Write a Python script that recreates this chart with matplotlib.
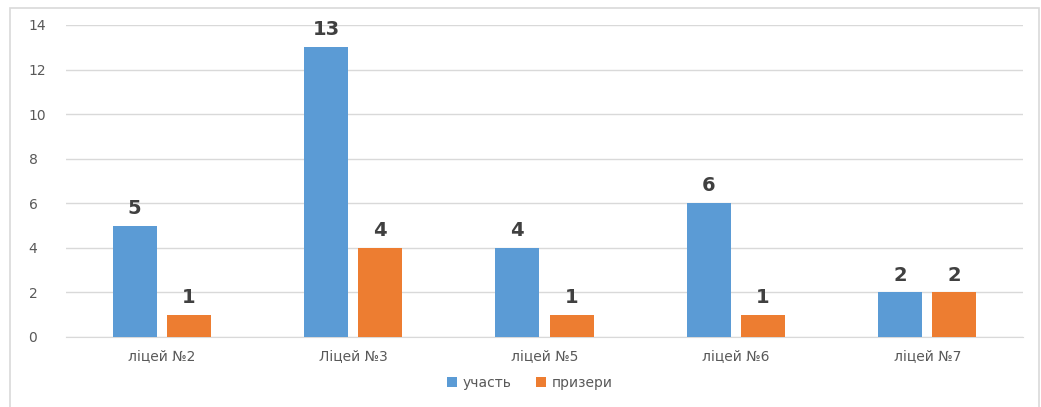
import matplotlib.pyplot as plt
import numpy as np
from matplotlib.patches import Rectangle

categories = ["ліцей №2", "Ліцей №3", "ліцей №5", "ліцей №6", "ліцей №7"]
uchast = [5, 13, 4, 6, 2]
pryzery = [1, 4, 1, 1, 2]

fig = plt.figure(figsize=(10.41, 4.07), dpi=100)
fig.patches.append(Rectangle((10/1041, -0.05), 1029/1041, 1 - 8/407 + 0.05,
                             transform=fig.transFigure, fill=False,
                             edgecolor="#D9D9D9", linewidth=1.2))
ax = fig.add_axes([66/1041, 1 - 337/407, 957/1041, 312/407])

x = np.arange(len(categories))
w = 0.23
b1 = ax.bar(x - 0.142, uchast, w, color="#5B9BD5", label="участь", zorder=3)
b2 = ax.bar(x + 0.142, pryzery, w, color="#ED7D31", label="призери", zorder=3)

for bars in (b1, b2):
    for r in bars:
        ax.text(r.get_x() + r.get_width()/2, r.get_height() + 0.35, str(int(r.get_height())),
                ha="center", va="bottom", fontsize=14, fontweight="bold", color="#404040")

ax.set_xlim(-0.5, 4.5)
ax.set_ylim(0, 14)
ax.set_yticks(range(0, 15, 2))
ax.set_xticks(x)
ax.set_xticklabels(categories)
ax.tick_params(axis="both", length=0, labelsize=10, colors="#595959")
ax.tick_params(axis="x", pad=9)
for lab in ax.get_yticklabels():
    lab.set_horizontalalignment("left")
ax.yaxis.set_tick_params(pad=27)
ax.grid(axis="y", color="#D9D9D9", linewidth=1, zorder=0)
for s in ["top", "right", "left"]:
    ax.spines[s].set_visible(False)
ax.spines["bottom"].set_color("#D9D9D9")

fig.legend(loc="center", bbox_to_anchor=(530/1041, 1 - 383/407), ncol=2, frameon=False,
           fontsize=10, handlelength=0.7, handleheight=0.7, handletextpad=0.4,
           columnspacing=1.8, labelcolor="#595959")

fig.savefig("out.png", dpi=100)
